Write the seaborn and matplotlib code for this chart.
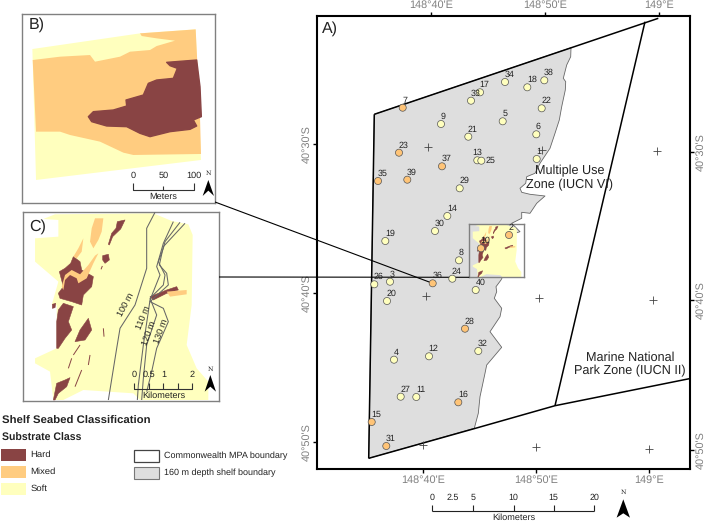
import matplotlib
matplotlib.use("Agg")
import matplotlib.pyplot as plt
from matplotlib.patches import Polygon, Rectangle
import pandas as pd
import seaborn as sns

# ---------- data ----------
station_id = list(range(1, 41))
station_x = [536.7, 509, 390, 394, 502.7, 536.3, 402.7, 459, 441, 481,
             416.3, 429, 477.3, 447.3, 371.7, 458.3, 480, 527.3, 385.3, 387,
             468.3, 541.7, 399, 452.3, 481.3, 374.3, 400.7, 465, 459.7, 435,
             386.3, 478.3, 471, 505, 378, 432.7, 442, 544.3, 407.3, 475.7]
station_y = [159, 235, 281.7, 359.7, 121.3, 134.3, 107.7, 260.3, 124, 248.3,
             397, 356.3, 160.3, 216, 422, 402.3, 92.3, 87.3, 241, 301,
             136.7, 108.3, 152.7, 278.7, 160.7, 284.3, 396.7, 328.7, 188.3, 231,
             446, 351, 100.7, 82, 181, 283.3, 166.3, 80.3, 179.7, 290]
mixed_ids = [2, 7, 10, 15, 16, 23, 28, 31, 35, 36, 37, 39]

shelf_edge = [(374.3, 114.3), (571, 47.7), (570.7, 56.7), (566.7, 65), (563.3, 78.3), (565.7, 81.7),
              (565.3, 90), (561.7, 106.7), (559.3, 120), (555, 133.3), (550, 148.3), (543.3, 158.3),
              (540, 163.3), (535, 173.3), (526.7, 176.7), (525.7, 183.3), (520, 188.3), (521.7, 192.3),
              (530, 194.3), (545, 196), (536.7, 203.3), (530, 213.3), (521.7, 212.3), (521.7, 218.3),
              (511.7, 223.3), (520, 231.7), (515, 233.3), (512, 240), (505, 272), (501, 280), (496, 286.7),
              (496.7, 291.7), (494.3, 298.3), (501.7, 308.3), (500, 316.7), (490, 331.7), (501.7, 347.3),
              (486.7, 365), (485, 373.3), (480, 396.7), (478.3, 413.3), (474.3, 428.3), (368.7, 458.3)]
mpa_north = [(374.3, 114.3), (658.3, 18.3)]
mpa_west = [(374.3, 114.3), (368.7, 458.3)]
mpa_south = [(368.7, 458.3), (473, 429), (555, 405.7), (689.3, 378.7)]
zone_divider = [(645, 21.7), (555, 405.7)]
graticule_x = [428.3, 542.3, 656.7, 425.7, 539, 653, 423, 536, 649.3]
graticule_y = [146.7, 149.7, 151.3, 295.7, 298.3, 300.3, 445, 447.3, 449.3]

top_ticks = [431, 545.3, 659.3]
bottom_ticks = [422.7, 536, 649.3]
left_ticks = [144.3, 293.3, 442.3]
right_ticks = [152.3, 300, 450]
lon_labels = ["148°40'E", "148°50'E", "149°E"]
lat_labels = ["40°30'S", "40°40'S", "40°50'S"]

b_soft = [(97, 147), (420, 100), (587, 88), (603, 480), (108, 540)]
b_mixed = [(420, 100), (587, 88), (600, 350), (603, 462), (400, 465), (370, 458), (300, 425), (210, 405),
           (180, 395), (108, 395), (98, 180), (180, 170), (270, 165), (285, 185), (360, 170), (390, 155),
           (450, 150), (470, 138), (525, 122), (470, 115), (425, 108)]
b_hard = [(500, 187), (590, 180), (600, 260), (604, 350), (580, 360), (590, 378), (570, 388), (510, 395),
          (450, 410), (420, 400), (380, 380), (320, 378), (275, 365), (265, 350), (280, 335), (340, 330),
          (380, 318), (378, 300), (430, 285), (445, 250), (470, 240), (520, 235), (532, 205), (510, 197)]

c_soft = [(165, 28), (460, 25), (515, 48), (565, 58), (578, 90), (575, 300), (560, 420), (590, 490), (625, 530),
          (625, 585), (420, 585), (400, 565), (250, 555), (190, 585), (160, 585), (150, 500), (105, 475),
          (105, 460), (170, 430), (170, 300), (155, 300), (175, 230), (105, 170), (105, 100), (175, 95),
          (175, 45), (130, 42)]
c_hard = [[(220, 155), (240, 170), (245, 195), (280, 215), (275, 245), (250, 270), (245, 300), (215, 290),
           (180, 280), (175, 265), (190, 245), (178, 200), (195, 190), (212, 175)],
          [(190, 295), (220, 305), (205, 350), (215, 375), (195, 400), (175, 430), (170, 430), (170, 350), (175, 315)],
          [(265, 340), (275, 375), (255, 405), (225, 410), (240, 375)],
          [(352, 50), (375, 45), (362, 72), (338, 95), (328, 120), (325, 118), (335, 85), (348, 70)],
          [(308, 152), (325, 148), (328, 165), (315, 175), (308, 165)],
          [(157, 298), (167, 295), (165, 308), (157, 310)],
          [(195, 525), (210, 518), (200, 545), (175, 565), (165, 585), (160, 585), (170, 535)],
          [(450, 275), (500, 255), (530, 245), (535, 255), (500, 265), (460, 285)]]
c_mixed = [[(285, 40), (310, 40), (305, 80), (295, 105), (280, 130), (270, 110), (275, 70)],
           [(250, 100), (245, 140), (230, 160), (220, 155), (235, 130)],
           [(295, 145), (280, 175), (260, 220), (235, 235), (230, 220), (210, 210), (195, 225), (190, 255),
            (185, 245), (195, 210), (215, 195), (240, 208), (265, 180), (285, 152)],
           [(500, 260), (560, 255), (560, 268), (510, 275)]]
c_streaks = [[(310, 370), (312, 395)], [(270, 450), (265, 480)], [(245, 495), (225, 545)],
             [(215, 460), (205, 490)], [(240, 420), (220, 450)], [(307, 183), (303, 193)]]
contour_100 = [(465, 22), (440, 70), (440, 190), (405, 300), (360, 370), (350, 430), (325, 585)]
contour_110 = [(520, 50), (490, 115), (470, 185), (480, 210), (450, 285), (445, 320), (430, 420), (415, 540), (412, 585)]
contour_120 = [(540, 52), (495, 110), (490, 130), (475, 170), (495, 210), (490, 240), (450, 280), (470, 330),
               (440, 420), (430, 520), (425, 585)]
contour_130 = [(555, 55), (490, 125), (478, 180), (500, 205), (505, 240), (450, 290), (490, 310), (505, 350),
               (470, 430), (455, 500), (440, 560)]

main_scale_labels = ["0", "2.5", "5", "10", "15", "20"]
main_scale_x = [432.3, 452.7, 472.7, 513.7, 553.7, 594.3]

SOFT, MIXED, HARD = "#FFFFBE", "#FFCC80", "#894444"
SHELF = "#DEDEDE"

# ---------- figure ----------
sns.set_theme(style="white")
plt.rcParams["font.family"] = ["Liberation Sans", "DejaVu Sans"]
plt.rcParams["text.hinting"] = "none"
W, H = 707, 522
fig = plt.figure(figsize=(W / 100, H / 100), dpi=100, facecolor="white")


def place(x0, y0, x1, y1, xlim, ylim, zorder):
    a = fig.add_axes([x0 / W, 1 - y1 / H, (x1 - x0) / W, (y1 - y0) / H], zorder=zorder)
    a.set_xlim(*xlim)
    a.set_ylim(*ylim)
    return a


def poly(a, pts, fc, ec="none", lw=0, z=2):
    a.add_patch(Polygon(pts, closed=True, facecolor=fc, edgecolor=ec, linewidth=lw, zorder=z, joinstyle="round"))


def line(a, pts, color="black", lw=1.0, z=3):
    a.plot([p[0] for p in pts], [p[1] for p in pts], color=color, lw=lw, zorder=z, solid_capstyle="butt")


def north(a, x, tip, base, notch, half, ny):
    poly(a, [(x, tip), (x - half, base), (x, notch), (x + half, base)], "black", z=5)
    a.text(x, ny, "N", ha="center", va="center", fontsize=4.5, family="DejaVu Serif", color="#222222")


def bare(a, edge="#808080", lw=1.0):
    a.set_xticks([])
    a.set_yticks([])
    a.patch.set_alpha(0)
    for s in a.spines.values():
        s.set_visible(True)
        s.set_color(edge)
        s.set_linewidth(lw)


def draw_c(a, detail=True):
    poly(a, c_soft, SOFT)
    for p in c_hard:
        poly(a, p, HARD, ec=HARD, lw=0.4, z=3)
    for p in c_mixed:
        poly(a, p, MIXED, z=4)
    if detail:
        for s in c_streaks:
            line(a, s, HARD, 0.7, 3)


# main map
ax = place(317.3, 16, 689.7, 469, (317.3, 689.7), (469, 16), 1)
poly(ax, shelf_edge, SHELF, ec="#666666", lw=0.6)
for seg in (mpa_north, mpa_west, mpa_south, zone_divider):
    line(ax, seg, "black", 1.1)
ax.plot(graticule_x, graticule_y, ls="none", marker="+", ms=6, mew=0.6, color="#444444", zorder=4)
for s in ax.spines.values():
    s.set_visible(True)
    s.set_color("black")
    s.set_linewidth(1.5)
tick_style = dict(length=3, width=1, color="black", labelcolor="#808080", labelsize=7.8, pad=1)
ax.set_xticks(bottom_ticks, lon_labels)
ax.set_yticks(left_ticks, lat_labels, rotation=90, va="center")
ax.tick_params(bottom=True, left=True, **tick_style)
top = ax.twiny()
top.set_xlim(ax.get_xlim())
top.set_xticks(top_ticks, lon_labels)
top.tick_params(top=True, **tick_style)
right = ax.twinx()
right.set_ylim(ax.get_ylim())
right.set_yticks(right_ticks, lat_labels, rotation=90, va="center")
right.tick_params(right=True, **tick_style)
for t in (top, right):
    for s in t.spines.values():
        s.set_visible(False)
    t.grid(False)
ax.grid(False)

# locator inset
ins = place(469.3, 224.3, 524.3, 277.3, (68, 657), (588, 22), 3)
bare(ins)
draw_c(ins, detail=False)

# panel B
axb = place(21.7, 13.7, 215, 203.3, (65, 645), (610, 41), 3)
bare(axb)
poly(axb, b_soft, SOFT)
poly(axb, b_mixed, MIXED, z=3)
poly(axb, b_hard, HARD, ec=HARD, lw=1.0, z=4)
axb.text(85, 75, "B)", fontsize=11.5, va="center", color="#222222")
line(axb, [(398, 550), (398, 570), (582, 570), (582, 550)], "#333333", 0.8)
line(axb, [(490, 557), (490, 570)], "#333333", 0.8)
for xp, lab in zip([398, 490, 582], ["0", "50", "100"]):
    axb.text(xp, 528, lab, fontsize=6.6, ha="center", va="center", color="#222222")
axb.text(489, 590, "Meters", fontsize=6.6, ha="center", va="center", color="#222222")
north(axb, 625, 540, 588, 572, 17, 520)

# panel C
axc = place(22.7, 212.3, 219, 401, (68, 657), (588, 22), 3)
bare(axc)
draw_c(axc)
for c in (contour_100, contour_110, contour_120, contour_130):
    line(axc, c, "#666666", 0.75, 5)
for xp, yp, lab, rot in [(376, 298, "100 m", 62), (430, 338, "110 m", 68),
                         (447, 385, "120 m", 70), (482, 380, "130 m", 70)]:
    axc.text(xp, yp, lab, fontsize=6.6, rotation=rot, ha="center", va="center", color="#222222", zorder=6)
axc.text(88, 65, "C)", fontsize=11.5, va="center", color="#222222")
line(axc, [(403, 535), (403, 551), (577, 551), (577, 535)], "#333333", 0.8, 6)
for xp in (447, 490, 533):
    line(axc, [(xp, 535), (xp, 551)], "#333333", 0.8, 6)
for xp, lab in zip([403, 448, 490, 575], ["0", "0.5", "1", "2"]):
    axc.text(xp, 510, lab, fontsize=6.6, ha="center", va="center", color="#222222", zorder=6)
axc.text(490, 571, "Kilometers", fontsize=6.6, ha="center", va="center", color="#222222", zorder=6)
north(axc, 631, 510, 560, 545, 17, 493)

# overlay in figure pixels: stations, leader lines, legend, scale bar
ov = place(0, 0, W, H, (0, W), (H, 0), 5)
ov.axis("off")
line(ov, [(215, 202), (432.7, 283.3)], "black", 0.8)
line(ov, [(219, 277), (469.3, 277.3)], "black", 0.8)

stations = pd.DataFrame({"id": station_id, "x": station_x, "y": station_y})
stations["cls"] = ["Mixed" if i in mixed_ids else "Soft" for i in station_id]
sns.scatterplot(data=stations, x="x", y="y", hue="cls", palette={"Soft": SOFT, "Mixed": "#FFC477"},
                s=26, edgecolor="#555555", linewidth=0.5, legend=False, ax=ov, zorder=6)
ov.set_xlim(0, W)
ov.set_ylim(H, 0)
for i, xp, yp in zip(station_id, station_x, station_y):
    dx, dy = (2, -7.3) if i < 10 else (4.6, -7.3)
    if i == 13:
        dx = 0.3
    if i == 25:
        dx, dy = 9, 0.3
    ov.text(xp + dx, yp + dy, str(i), fontsize=6.4, ha="center", va="center", color="#222222", zorder=7)

ov.text(330, 29, "A)", fontsize=11.5, ha="center", va="center", color="#222222")
ov.text(569.3, 177.7, "Multiple Use\nZone (IUCN VI)", fontsize=9.1, ha="center", va="center",
        color="#222222", linespacing=1.15, zorder=8)
ov.text(630, 364.3, "Marine National\nPark Zone (IUCN II)", fontsize=9.1, ha="center", va="center",
        color="#222222", linespacing=1.15, zorder=8)

# main scale bar
line(ov, [(main_scale_x[0], 511), (main_scale_x[-1], 511)], "#222222", 0.8)
for xp, lab in zip(main_scale_x, main_scale_labels):
    if lab != "2.5":
        line(ov, [(xp, 505), (xp, 511)], "#222222", 0.8)
    ov.text(xp, 497.3, lab, fontsize=6.4, ha="center", va="center", color="#222222")
ov.text(513.5, 517.5, "Kilometers", fontsize=6.6, ha="center", va="center", color="#222222")
north(ov, 623.3, 499.3, 517.7, 513.3, 6.7, 492.7)

# legend
ov.text(2, 421.3, "Shelf Seabed Classification", fontsize=8.2, fontweight="bold", va="center", color="#222222")
ov.text(2, 438, "Substrate Class", fontsize=7.6, fontweight="bold", va="center", color="#222222")
for yp, col, lab in [(449, HARD, "Hard"), (465.7, MIXED, "Mixed"), (482.7, SOFT, "Soft")]:
    ov.add_patch(Rectangle((1, yp), 24.7, 12, facecolor=col, edgecolor="none"))
    ov.text(30.7, yp + 6, lab, fontsize=6.8, va="center", color="#222222")
ov.add_patch(Rectangle((134, 449.5), 25, 12.7, facecolor="white", edgecolor="#444444", linewidth=0.9))
ov.add_patch(Rectangle((134, 466.7), 25, 12.7, facecolor=SHELF, edgecolor="#777777", linewidth=0.8))
ov.text(164, 456, "Commonwealth MPA boundary", fontsize=6.5, va="center", color="#222222")
ov.text(164, 473, "160 m depth shelf boundary", fontsize=6.5, va="center", color="#222222")

fig.savefig("out.png", dpi=100)
